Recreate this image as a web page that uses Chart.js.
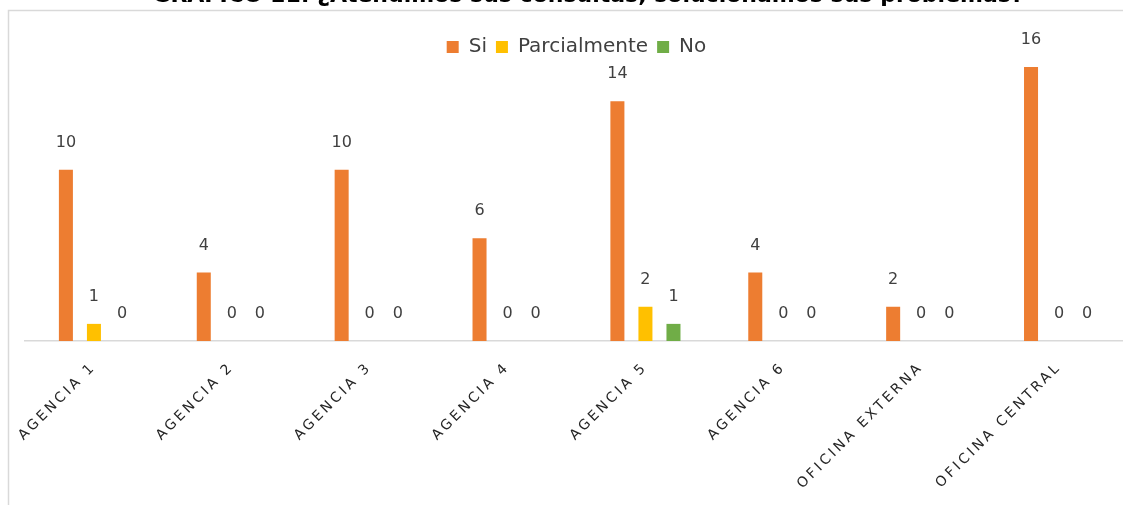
<!DOCTYPE html>
<html>
<head>
<meta charset="utf-8">
<script src="https://cdn.jsdelivr.net/npm/chart.js@4.4.1/dist/chart.umd.min.js"></script>
<style>
  html, body { margin: 0; padding: 0; background: #ffffff; overflow: hidden; }
  #wrap { width: 1135px; height: 505px; }
</style>
</head>
<body>
<div id="wrap"><canvas id="c" width="1135" height="505"></canvas></div>
<script>
const categories = ["AGENCIA 1", "AGENCIA 2", "AGENCIA 3", "AGENCIA 4", "AGENCIA 5", "AGENCIA 6", "OFICINA EXTERNA", "OFICINA CENTRAL"];
const siValues = [10, 4, 10, 6, 14, 4, 2, 16];
const parcialValues = [1, 0, 0, 0, 2, 0, 0, 0];
const noValues = [0, 0, 0, 0, 1, 0, 0, 0];
const seriesNames = ["Si", "Parcialmente", "No"];
const titleText = "GRÁFICO 11: ¿Atendimos sus consultas, solucionamos sus problemas?";

const frameAndTitle = {
  id: 'frameAndTitle',
  beforeDraw(chart) {
    const ctx = chart.ctx;
    ctx.save();
    ctx.fillStyle = '#ffffff';
    ctx.fillRect(0, 0, chart.width, chart.height);
    ctx.strokeStyle = '#d9d9d9';
    ctx.lineWidth = 1.5;
    ctx.beginPath();
    ctx.moveTo(8.5, 600);
    ctx.lineTo(8.5, 10.5);
    ctx.lineTo(1300, 10.5);
    ctx.stroke();
    ctx.fillStyle = '#000000';
    ctx.font = 'bold 22px "DejaVu Sans"';
    ctx.textAlign = 'center';
    ctx.textBaseline = 'alphabetic';
    ctx.fillText(titleText, 588, 2);
    ctx.restore();
  }
};

const valueLabels = {
  id: 'valueLabels',
  afterDatasetsDraw(chart) {
    const ctx = chart.ctx;
    ctx.save();
    ctx.fillStyle = '#404040';
    ctx.font = '16px "DejaVu Sans"';
    ctx.textAlign = 'center';
    ctx.textBaseline = 'middle';
    chart.data.datasets.forEach((ds, i) => {
      const meta = chart.getDatasetMeta(i);
      meta.data.forEach((el, j) => {
        ctx.fillText(String(ds.data[j]), el.x, el.y - 27);
      });
    });
    ctx.restore();
  }
};

const spacedTicks = {
  id: 'spacedTicks',
  afterLayout(chart) {
    const sc = chart.scales.x;
    if (sc._patched) return;
    const orig = sc.drawLabels;
    sc.drawLabels = function (area) {
      const ctx = this.ctx;
      ctx.save();
      ctx.letterSpacing = '3px';
      orig.call(this, area);
      ctx.restore();
    };
    sc._patched = true;
  }
};

new Chart(document.getElementById('c'), {
  type: 'bar',
  data: {
    labels: categories,
    datasets: [
      { label: seriesNames[0], data: siValues, backgroundColor: '#ED7D31' },
      { label: seriesNames[1], data: parcialValues, backgroundColor: '#FFC000' },
      { label: seriesNames[2], data: noValues, backgroundColor: '#70AD47' }
    ]
  },
  options: {
    responsive: false,
    animation: false,
    devicePixelRatio: 1,
    layout: { padding: { top: 28, left: 25, right: 7, bottom: 0 } },
    datasets: { bar: { categoryPercentage: 0.61, barPercentage: 0.5 } },
    plugins: {
      legend: {
        position: 'top',
        align: 'center',
        labels: {
          boxWidth: 12,
          boxHeight: 12,
          padding: 9,
          color: '#404040',
          font: { size: 20, family: '"DejaVu Sans"' }
        }
      },
      tooltip: { enabled: false }
    },
    scales: {
      x: {
        grid: { display: false },
        border: { display: true, color: '#d9d9d9', width: 1.5 },
        ticks: {
          minRotation: 45,
          maxRotation: 45,
          autoSkip: false,
          color: '#262626',
          padding: 10,
          font: { size: 14, family: '"DejaVu Sans"' }
        },
        afterFit(scale) { scale.height = 164; }
      },
      y: {
        display: false,
        min: 0,
        max: 16
      }
    }
  },
  plugins: [frameAndTitle, valueLabels, spacedTicks]
});
</script>
</body>
</html>
